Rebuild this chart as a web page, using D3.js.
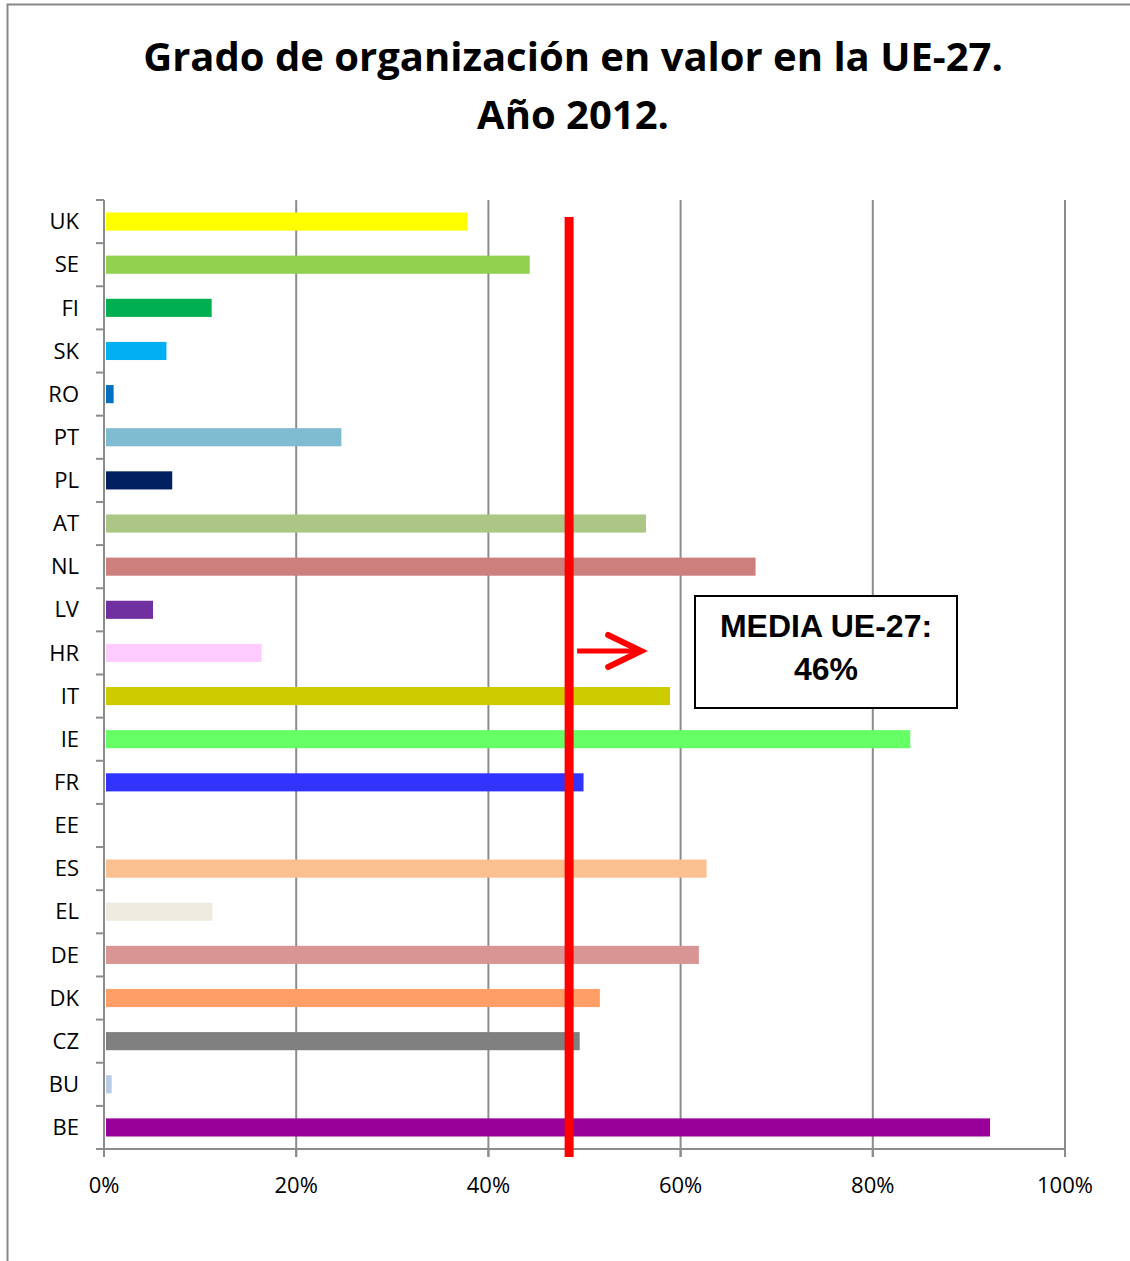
<!DOCTYPE html>
<html>
<head>
<meta charset="utf-8">
<script src="https://cdn.jsdelivr.net/npm/d3@7"></script>
<style>
  body { margin: 0; background: #fff; }
  text { font-family: "Open Sans", "Noto Sans", sans-serif; }
  text.box-label { font-family: "Liberation Sans", Arial, sans-serif; }
</style>
</head>
<body>
<div id="chart-area"></div>
<script>
const countries = ["UK", "SE", "FI", "SK", "RO", "PT", "PL", "AT", "NL", "LV", "HR",
  "IT", "IE", "FR", "EE", "ES", "EL", "DE", "DK", "CZ", "BU", "BE"];
const values = [0.378, 0.443, 0.112, 0.065, 0.010, 0.247, 0.071, 0.564, 0.678, 0.051, 0.164,
  0.589, 0.839, 0.499, 0, 0.627, 0.113, 0.619, 0.516, 0.495, 0.008, 0.922];
const barColors = ["#ffff00", "#92d050", "#00b050", "#00b0f0", "#0070c0", "#7fbcd2", "#002060",
  "#acc785", "#cd7f7e", "#7030a0", "#ffccff", "#cccc00", "#66ff66", "#3333ff", "#ffffff",
  "#fac090", "#eeece1", "#d99594", "#ff9e66", "#808080", "#b8cce4", "#990099"];
const xTicks = [0, 0.2, 0.4, 0.6, 0.8, 1];
const meanLine = 0.484;
const meanLabel = ["MEDIA UE-27:", "46%"];
const titleLines = ["Grado de organización en valor en la UE-27.", "Año 2012."];

const chartSize = { width: 1130, height: 1261 };
const margin = { left: 104, right: 65, top: 200, bottom: 112 };
const width = chartSize.width - margin.left - margin.right;
const height = chartSize.height - margin.top - margin.bottom;

const svg = d3.select("#chart-area")
  .append("svg")
  .attr("width", chartSize.width)
  .attr("height", chartSize.height);

// outer frame (top and left only visible)
svg.append("path")
  .attr("d", "M7.5,1261 V4.5 H1130")
  .attr("fill", "none")
  .attr("stroke", "#888")
  .attr("stroke-width", 2);

svg.selectAll(".title")
  .data(titleLines)
  .enter()
  .append("text")
  .attr("class", "title")
  .attr("x", 573)
  .attr("y", (d, i) => 71 + i * 58)
  .attr("text-anchor", "middle")
  .attr("font-size", 40)
  .attr("font-weight", "bold")
  .text(d => d);

const x = d3.scaleLinear().domain([0, 1]).range([0, width]);
const y = d3.scaleBand().domain(countries).range([0, height]).paddingInner(0.58).paddingOuter(0.29);
const yb = d3.scaleBand().domain(countries).range([0, height]);

const g = svg.append("g")
  .attr("transform", `translate(${margin.left},${margin.top})`);

// gridlines
g.selectAll(".grid")
  .data(xTicks.slice(1))
  .enter()
  .append("line")
  .attr("x1", d => x(d))
  .attr("x2", d => x(d))
  .attr("y1", 0)
  .attr("y2", height + 8)
  .attr("stroke", "#8c8c8c")
  .attr("stroke-width", 2);

g.selectAll(".bar")
  .data(countries)
  .enter()
  .append("rect")
  .attr("x", 2)
  .attr("y", c => y(c))
  .attr("width", (c, i) => Math.max(0, x(values[i]) - 2))
  .attr("height", y.bandwidth())
  .attr("fill", (c, i) => barColors[i]);

// y axis
const yAxis = g.append("g");
yAxis.append("line")
  .attr("x1", 0).attr("x2", 0).attr("y1", 0).attr("y2", height + 8)
  .attr("stroke", "#8c8c8c").attr("stroke-width", 2);
yAxis.selectAll(".ytick")
  .data(countries.concat(["end"]))
  .enter()
  .append("line")
  .attr("x1", -8).attr("x2", 0)
  .attr("y1", (c, i) => i * yb.step())
  .attr("y2", (c, i) => i * yb.step())
  .attr("stroke", "#8c8c8c").attr("stroke-width", 2);
yAxis.selectAll(".ylab")
  .data(countries)
  .enter()
  .append("text")
  .attr("x", -25)
  .attr("y", c => yb(c) + yb.bandwidth() / 2)
  .attr("dy", "0.35em")
  .attr("text-anchor", "end")
  .attr("font-size", 22)
  .text(c => c);

// x axis
const xAxis = g.append("g").attr("transform", `translate(0,${height})`);
xAxis.append("line")
  .attr("x1", 0).attr("x2", width)
  .attr("stroke", "#8c8c8c").attr("stroke-width", 2);
xAxis.selectAll(".xtick")
  .data(xTicks)
  .enter()
  .append("line")
  .attr("x1", d => x(d)).attr("x2", d => x(d))
  .attr("y1", 0).attr("y2", 8)
  .attr("stroke", "#8c8c8c").attr("stroke-width", 2);
xAxis.selectAll(".xlab")
  .data(xTicks)
  .enter()
  .append("text")
  .attr("x", d => x(d))
  .attr("y", 44)
  .attr("text-anchor", "middle")
  .attr("font-size", 22)
  .text(d3.format(".0%"));

// mean line
g.append("line")
  .attr("x1", x(meanLine)).attr("x2", x(meanLine))
  .attr("y1", 17).attr("y2", height + 8)
  .attr("stroke", "#ff0000")
  .attr("stroke-width", 9);

// arrow
const ay = 451;
const ax0 = x(meanLine) + 8;
const ax1 = ax0 + 64;
g.append("line")
  .attr("x1", ax0).attr("x2", ax1 - 4)
  .attr("y1", ay).attr("y2", ay)
  .attr("stroke", "#ff0000").attr("stroke-width", 5);
g.append("path")
  .attr("d", `M${ax1 - 33},${ay - 16} L${ax1},${ay} L${ax1 - 33},${ay + 16}`)
  .attr("fill", "none")
  .attr("stroke", "#ff0000")
  .attr("stroke-width", 6)
  .attr("stroke-linecap", "round")
  .attr("stroke-linejoin", "miter");

// label box
const box = svg.append("g").attr("transform", "translate(695,596)");
box.append("rect")
  .attr("width", 262).attr("height", 112)
  .attr("fill", "#fff").attr("stroke", "#000").attr("stroke-width", 2);
box.selectAll("text")
  .data(meanLabel)
  .enter()
  .append("text")
  .attr("class", "box-label")
  .attr("x", 131)
  .attr("y", (d, i) => 41 + i * 43)
  .attr("text-anchor", "middle")
  .attr("font-weight", "bold")
  .attr("font-size", 32)
  .text(d => d);
</script>
</body>
</html>
